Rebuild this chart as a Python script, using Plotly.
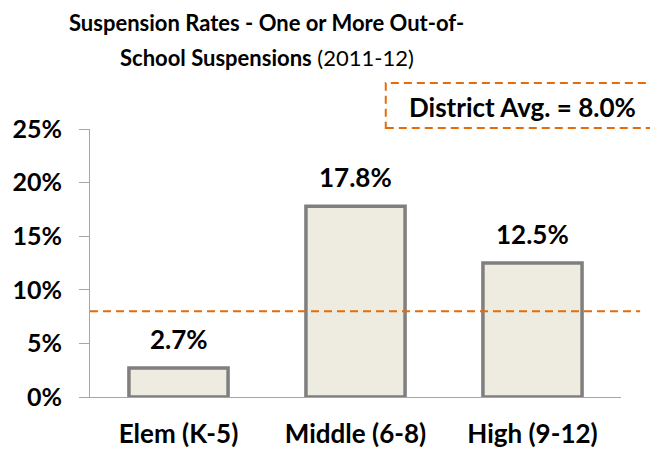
import plotly.graph_objects as go

# data
categories = ["Elem (K-5)", "Middle (6-8)", "High (9-12)"]
rates = [2.7, 17.8, 12.5]
district_avg = 8.0
y_ticks = [0, 5, 10, 15, 20, 25]
y_labels = ["<b>0%</b>", "<b>5%</b>", "<b>10%</b>", "<b>15%</b>", "<b>20%</b>", "<b>25%</b>"]

FONT = "Lato"
ORANGE = "#E46C0A"
GREY = "#A6A6A6"

fig = go.Figure()
fig.add_trace(go.Bar(
    x=categories,
    y=rates,
    width=0.56,
    marker=dict(color="#EEECE1", line=dict(color="#7F7F7F", width=3.5)),
    hoverinfo="skip",
))

# value labels above the bars
for c, v in zip(categories, rates):
    fig.add_annotation(x=c, y=v, yanchor="bottom", yshift=11,
                       text=f"<b>{v:.1f}%</b>", showarrow=False,
                       font=dict(family=FONT, size=26, color="black"))

# district average dashed line
fig.add_shape(type="line", xref="paper", yref="y",
              x0=0, x1=1.036, y0=district_avg, y1=district_avg,
              line=dict(color=ORANGE, width=2, dash="8px,5px"))
# dashed box around the district average label
fig.add_shape(type="rect", xref="paper", yref="paper",
              x0=0.557, x1=1.09, y0=1.004, y1=1.172,
              line=dict(color=ORANGE, width=2, dash="8px,5px"))
fig.add_annotation(xref="paper", yref="paper", x=0.8145, y=1.082,
                   text=f"<b>District Avg. = {district_avg:.1f}%</b>",
                   showarrow=False, xanchor="center", yanchor="middle",
                   font=dict(family=FONT, size=26, color="black"))

# two-line title
fig.add_annotation(xref="paper", yref="paper", x=0.333, y=1.396,
                   xanchor="center", yanchor="middle", showarrow=False,
                   text="<b>Suspension Rates - One or More Out-of-</b>",
                   font=dict(family=FONT, size=22, color="black"))
fig.add_annotation(xref="paper", yref="paper", x=0.333, y=1.265,
                   xanchor="center", yanchor="middle", showarrow=False,
                   text="<b>School Suspensions</b> (2011-12)",
                   font=dict(family=FONT, size=22, color="black"))

# page body adds an 8px offset, so the figure is drawn 8px smaller
fig.update_layout(
    width=650, height=448,
    margin=dict(l=82, r=37, t=121, b=59, autoexpand=False),
    paper_bgcolor="white", plot_bgcolor="white",
    showlegend=False,
    font=dict(family=FONT, color="black"),
    xaxis=dict(
        showline=True, linecolor=GREY, linewidth=1,
        ticks="", showgrid=False, automargin=False,
        tickvals=categories, ticktext=[f"<b>{c}</b>" for c in categories],
        ticklabelstandoff=14,
        tickfont=dict(family=FONT, size=26, color="black"),
    ),
    yaxis=dict(
        range=[0, 25], tickvals=y_ticks, ticktext=y_labels,
        showline=True, linecolor=GREY, linewidth=1,
        ticks="outside", ticklen=10, tickcolor=GREY,
        showgrid=False, zeroline=False, automargin=False,
        ticklabelstandoff=12,
        tickfont=dict(family=FONT, size=25, color="black"),
    ),
)

fig.write_html("out.html")
